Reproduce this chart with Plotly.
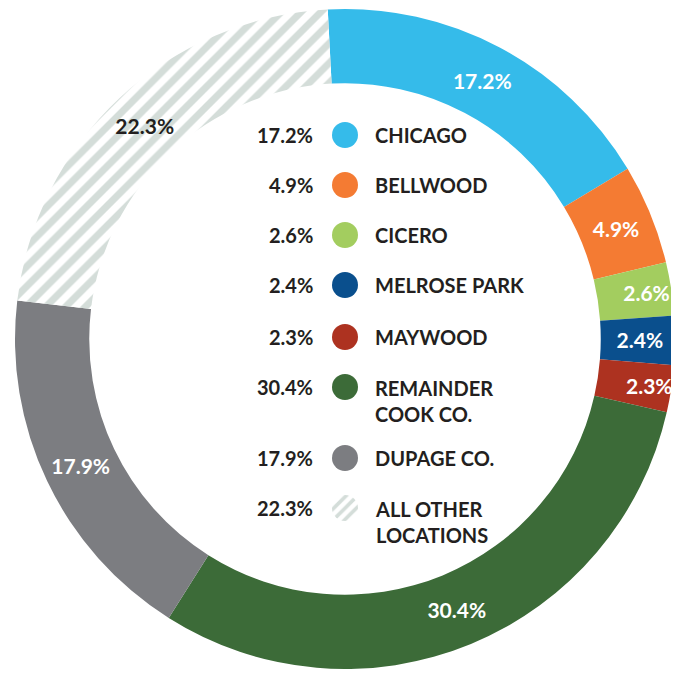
import plotly.graph_objects as go

# data
locations = ["CHICAGO", "BELLWOOD", "CICERO", "MELROSE PARK", "MAYWOOD",
             "REMAINDER<br>COOK CO.", "DUPAGE CO.", "ALL OTHER<br>LOCATIONS"]
shares = [17.2, 4.9, 2.6, 2.4, 2.3, 30.4, 17.9, 22.3]
colors = ["#35bbea", "#f47b33", "#a3cd5f", "#0a4f8d", "#ad3220",
          "#3c6b38", "#7c7d81", "#ffffff"]

# the page body has an 8px default margin, so the figure is drawn a bit
# smaller and everything is placed 8px up/left of where it shows on screen
OFF = 8
W, H = 679 - OFF, 677 - 2 * OFF
DARK = "#231f20"
FONT = "Lato"
HATCH = "#d4ddd9"

# donut geometry (figure pixels)
cx, cy, R = 337, 331, 330

fig = go.Figure()

fig.add_trace(go.Pie(
    labels=locations, values=shares, sort=False, direction="clockwise",
    rotation=-3, hole=0.775,
    marker=dict(
        colors=colors, line=dict(width=0),
        pattern=dict(shape=[""] * 7 + ["/"], fgcolor=[HATCH] * 8,
                     bgcolor=colors, size=14, solidity=0.5, fillmode="replace"),
    ),
    texttemplate="%{value:.1f}%", textposition="inside",
    insidetextorientation="horizontal",
    textfont=dict(family=FONT, size=21, weight=700,
                  color=["white"] * 7 + [DARK]),
    domain=dict(x=[(cx - R) / W, min(1, (cx + R) / W)],
                y=[max(0, (H - cy - R) / H), min(1, (H - cy + R) / H)]),
    hoverinfo="skip", showlegend=False,
))

# centre legend, laid out in pixel coordinates
row_y = [y - OFF for y in [135, 185, 235, 285, 337, 387, 458, 508]]
dot_x, pct_x, lab_x = 345 - OFF, 315 - OFF, 373 - OFF

fig.add_trace(go.Scatter(
    x=[dot_x] * 7, y=row_y[:7], mode="markers",
    marker=dict(size=26, color=colors[:7], line=dict(width=0)),
    hoverinfo="skip", showlegend=False,
))

# hatched legend icon as a tiny pie so it can carry the pattern
rr = 13
fig.add_trace(go.Pie(
    values=[1], sort=False, hole=0,
    marker=dict(colors=["#ffffff"], line=dict(width=0),
                pattern=dict(shape="/", fgcolor=HATCH, bgcolor="#ffffff",
                             size=8, solidity=0.45)),
    textinfo="none", hoverinfo="skip", showlegend=False,
    domain=dict(x=[(dot_x - rr) / W, (dot_x + rr) / W],
                y=[(H - row_y[7] - rr) / H, (H - row_y[7] + rr) / H]),
))

anns = []
for name, v, y in zip(locations, shares, row_y):
    anns.append(dict(x=pct_x, y=y, text=f"{v:.1f}%", xanchor="right",
                     yanchor="middle", showarrow=False))
    two = "<br>" in name
    anns.append(dict(x=lab_x, y=y - 13 if two else y, text=name, xanchor="left",
                     yanchor="top" if two else "middle", align="left",
                     showarrow=False))
for a in anns:
    a.update(xref="x", yref="y",
             font=dict(family=FONT, size=20, weight=700, color=DARK))

fig.update_layout(
    width=W, height=H, margin=dict(l=0, r=0, t=0, b=0),
    paper_bgcolor="white", plot_bgcolor="rgba(0,0,0,0)",
    xaxis=dict(range=[0, W], visible=False, domain=[0, 1]),
    yaxis=dict(range=[H, 0], visible=False, domain=[0, 1]),
    uniformtext=dict(minsize=21, mode="show"),
    annotations=anns,
)

fig.write_html("out.html")
